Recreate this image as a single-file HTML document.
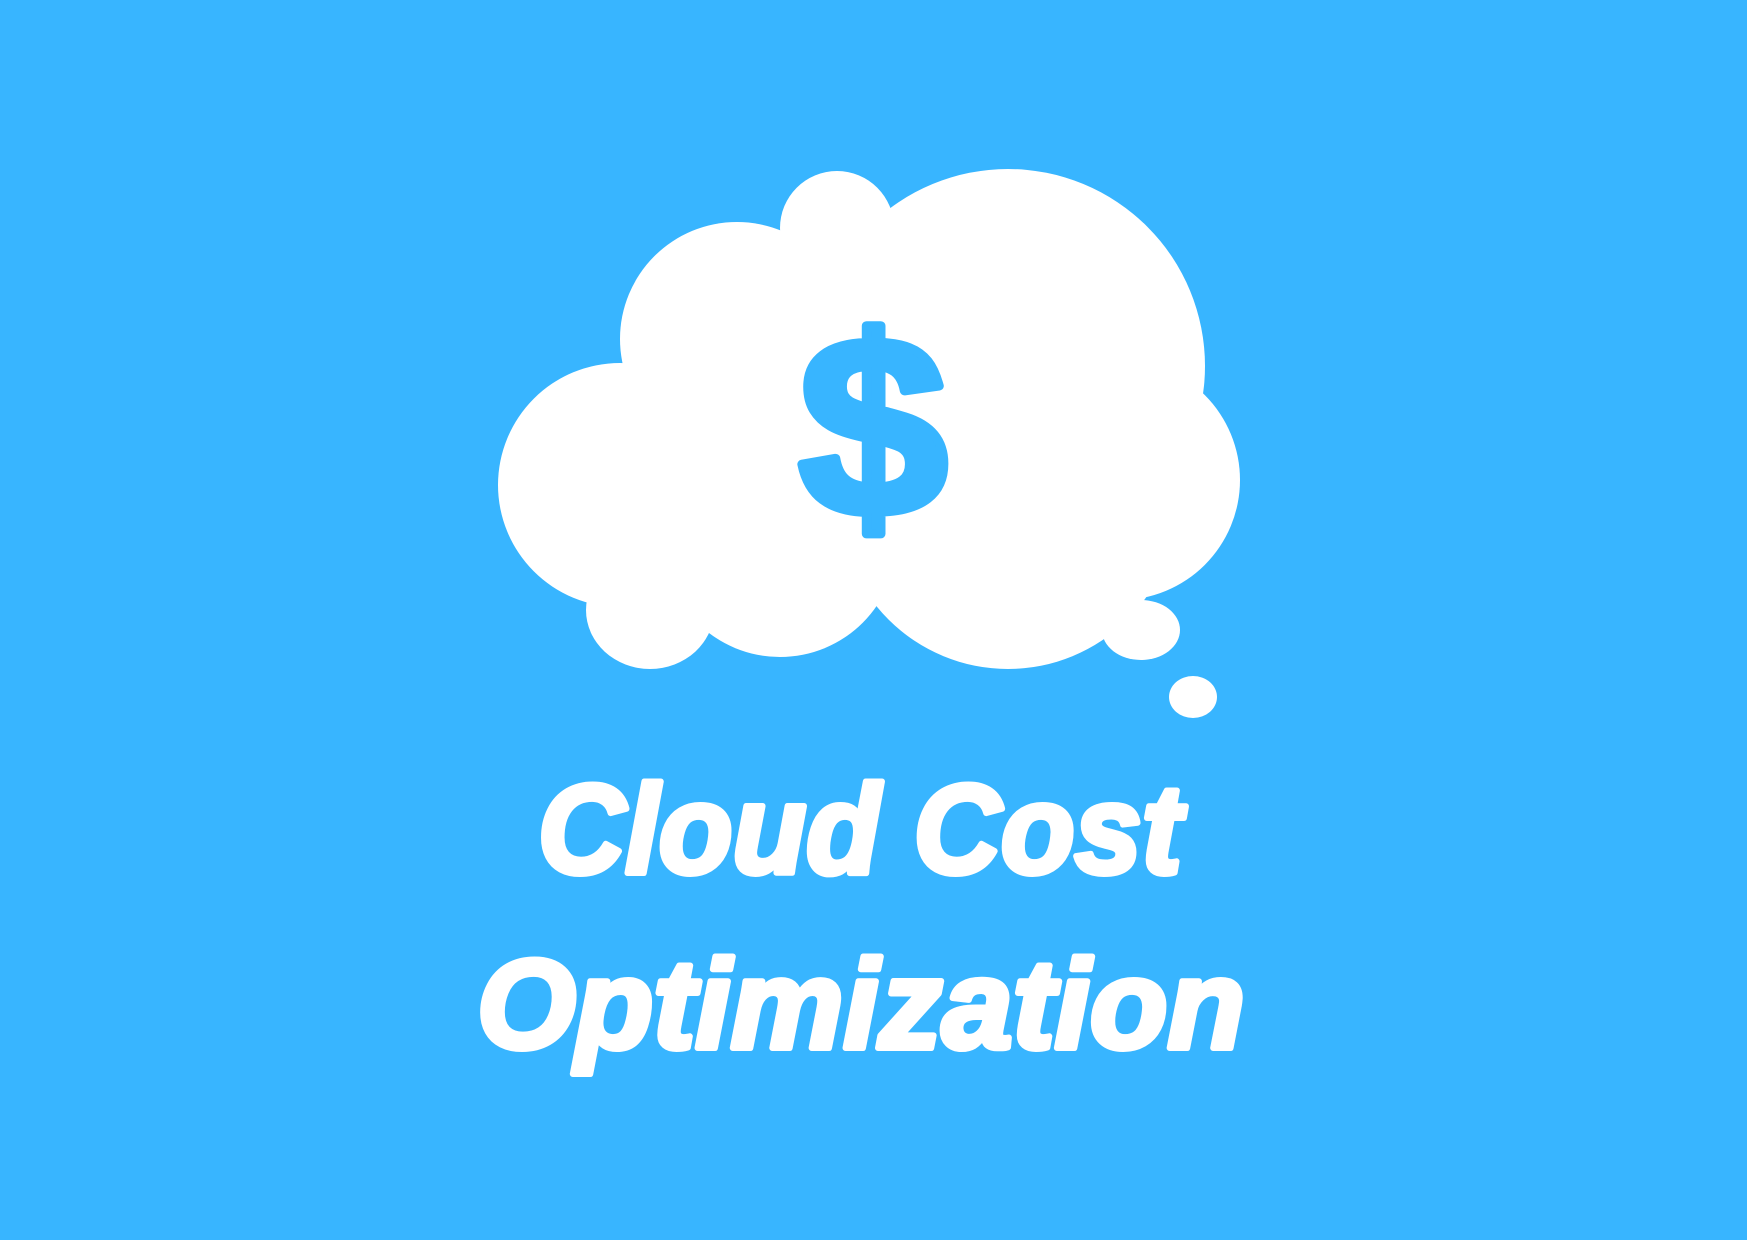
<!DOCTYPE html>
<html><head><meta charset="utf-8"><style>
html,body{margin:0;padding:0;background:#38B5FF;}
svg{display:block}
</style></head><body>
<svg width="1747" height="1240" viewBox="0 0 1747 1240" xmlns="http://www.w3.org/2000/svg">
<rect width="1747" height="1240" fill="#38B5FF"/>
<g fill="#fff">
<circle cx="837" cy="228" r="57"/>
<circle cx="1008" cy="366" r="197"/>
<circle cx="737" cy="339" r="117"/>
<circle cx="620" cy="485" r="122"/>
<circle cx="1120" cy="480" r="120"/>
<ellipse cx="650" cy="610" rx="64" ry="59"/>
<circle cx="780" cy="540" r="117"/>
<circle cx="1008" cy="500" r="169"/>
<ellipse cx="1141" cy="630" rx="39" ry="30"/>
<ellipse cx="1193" cy="697" rx="24" ry="21"/>
<rect x="640" y="330" width="480" height="260"/>
</g>
<text x="873" y="515" text-anchor="middle" font-family="Liberation Sans, sans-serif" font-weight="bold" font-size="255" fill="#38B5FF" stroke="#38B5FF" stroke-width="9" stroke-linejoin="round" transform="translate(873,0) scale(1.05,1) translate(-873,0)">$</text>
<g fill="#fff" stroke="#fff" stroke-width="6" stroke-linejoin="round" font-family="Liberation Sans, sans-serif" font-weight="bold" font-style="italic">
<text x="538" y="873" font-size="126" textLength="644" lengthAdjust="spacingAndGlyphs">Cloud Cost</text>
<text x="477" y="1048" font-size="126" textLength="768" lengthAdjust="spacingAndGlyphs">Optimization</text>
</g>
</svg>
</body></html>
